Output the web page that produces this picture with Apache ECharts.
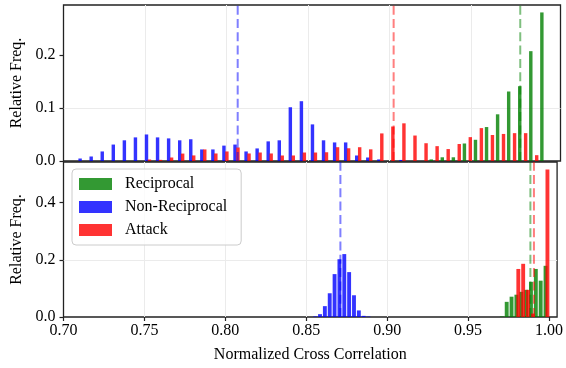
<!DOCTYPE html>
<html>
<head>
<meta charset="utf-8">
<script src="https://cdn.jsdelivr.net/npm/echarts@6/dist/echarts.min.js"></script>
<style>
  html, body { margin: 0; padding: 0; background: #fff; }
  #chart { width: 566px; height: 368px; }
</style>
</head>
<body>
<div id="chart"></div>
<script>
// ---- data ----
// top panel: one shared set of bins, three datasets side by side in each bin
const topBinStart = 0.7068;
const topBinWidth = 0.00679;
const topRecip = [
  0, 0, 0, 0, 0, 0, 0, 0, 0, 0, 0,
  0, 0, 0, 0, 0, 0, 0, 0, 0, 0, 0,
  0, 0, 0, 0, 0, 0, 0, 0, 0, 0,
  0.003, 0.007, 0.007, 0.033, 0.040, 0.064, 0.088, 0.131, 0.141, 0.207, 0.280
];
const topNonRecip = [
  0.0047, 0.0085, 0.018, 0.031, 0.039, 0.0445, 0.050, 0.0445, 0.0426, 0.039, 0.041,
  0.0218, 0.0218, 0.029, 0.031, 0.018, 0.0237, 0.037, 0.039, 0.1013, 0.1127, 0.069,
  0.039, 0.035, 0.035, 0.0104, 0.0066, 0.003, 0, 0.002, 0, 0,
  0, 0, 0, 0, 0, 0, 0, 0, 0, 0, 0
];
const topAttack = [
  0, 0, 0, 0, 0, 0, 0.0028, 0.0022, 0.0066, 0.014, 0.0105,
  0.0218, 0.0142, 0.018, 0.0255, 0.0142, 0.016, 0.0142, 0.0104, 0.0104, 0.016, 0.016,
  0.0165, 0.026, 0.024, 0.026, 0.022, 0.052, 0.065, 0.071, 0.048, 0.0335,
  0.028, 0.0225, 0.032, 0.045, 0.062, 0.049, 0.051, 0.0525, 0.0525, 0.011, 0
];
const topMeans = [0.9803, 0.8069, 0.9026]; // Reciprocal, Non-Reciprocal, Attack

// bottom panel: separate histograms, bin centres start + k * width
const botBinWidth = 0.003;
const botRecipStart = 0.97086;
const botRecip = [0.002, 0.053, 0.071, 0.078, 0.088, 0.095, 0.123, 0.168, 0.127, 0.179];
const botNonRecipStart = 0.8555;
const botNonRecip = [0.002, 0.010, 0.038, 0.083, 0.150, 0.202, 0.220, 0.157, 0.076, 0.023, 0.004, 0.0015];
const botAttackStart = 0.98104;
const botAttack = [0.168, 0.186, 0.095, 0.012, 0, 0, 0.516];
const botMeans = [0.9885, 0.8711, 0.9907];

const names = ['Reciprocal', 'Non-Reciprocal', 'Attack'];
const xTicks = [0.70, 0.75, 0.80, 0.85, 0.90, 0.95, 1.00];
const topYTicks = [0.0, 0.1, 0.2];
const botYTicks = [0.0, 0.2, 0.4];

const colors = ['rgba(0,128,0,0.8)', 'rgba(0,0,255,0.8)', 'rgba(255,0,0,0.8)'];
const meanColors = ['rgba(0,128,0,0.5)', 'rgba(0,0,255,0.5)', 'rgba(255,0,0,0.5)'];
const font = 'Liberation Serif';

// [left, right, height] for each bar
function topBars(values, idx) {
  const step = topBinWidth * 0.8 / 3;
  const w = topBinWidth * 0.31;
  return values.map(function (v, k) {
    const c = topBinStart + k * topBinWidth + topBinWidth * 0.1 + (idx + 0.5) * step;
    return [c - w / 2, c + w / 2, v];
  }).filter(function (d) { return d[2] > 0; });
}
function botBars(values, start) {
  return values.map(function (v, k) {
    const c = start + k * botBinWidth;
    return [c - botBinWidth * 0.4, c + botBinWidth * 0.4, v];
  }).filter(function (d) { return d[2] > 0; });
}

function renderBar(params, api) {
  const p0 = api.coord([api.value(0), api.value(2)]);
  const p1 = api.coord([api.value(1), 0]);
  return {
    type: 'rect',
    shape: { x: p0[0], y: p0[1], width: p1[0] - p0[0], height: p1[1] - p0[1] },
    style: { fill: api.visual('color') }
  };
}

// vertical dashed line over the whole panel at the mean
function renderMean(params, api) {
  const cs = params.coordSys;
  const x = api.coord([api.value(0), 0])[0];
  return {
    type: 'line',
    shape: { x1: x, y1: cs.y + cs.height, x2: x, y2: cs.y },
    style: { stroke: api.visual('color'), lineWidth: 2, lineDash: [9, 4.3] }
  };
}

function histSeries(name, i, gridIdx, data) {
  return {
    name: name,
    type: 'custom',
    xAxisIndex: gridIdx,
    yAxisIndex: gridIdx,
    renderItem: renderBar,
    encode: { x: [0, 1], y: 2 },
    itemStyle: { color: colors[i] },
    data: data,
    z: 2
  };
}
function meanSeries(name, i, gridIdx, mean) {
  return {
    name: name + ' mean',
    type: 'custom',
    xAxisIndex: gridIdx,
    yAxisIndex: gridIdx,
    renderItem: renderMean,
    encode: { x: 0, y: 1 },
    itemStyle: { color: meanColors[i] },
    data: [[mean, 0]],
    silent: true,
    z: 5
  };
}

const series = [];
series.push(histSeries(names[0], 0, 0, topBars(topRecip, 0)));
series.push(histSeries(names[1], 1, 0, topBars(topNonRecip, 1)));
series.push(histSeries(names[2], 2, 0, topBars(topAttack, 2)));
series.push(histSeries(names[0], 0, 1, botBars(botRecip, botRecipStart)));
series.push(histSeries(names[1], 1, 1, botBars(botNonRecip, botNonRecipStart)));
series.push(histSeries(names[2], 2, 1, botBars(botAttack, botAttackStart)));
for (let i = 0; i < 3; i++) {
  series.push(meanSeries(names[i], i, 0, topMeans[i]));
  series.push(meanSeries(names[i], i, 1, botMeans[i]));
}

const gridLine = { show: true, showMinLine: false, showMaxLine: false, lineStyle: { color: '#ebebeb', width: 1 } };
const labelStyle = { fontFamily: font, fontSize: 16, color: '#000' };

function xAxis(gridIdx, showLabels) {
  return {
    type: 'value',
    gridIndex: gridIdx,
    min: 0.7,
    max: 1.005,
    interval: 0.05,
    axisLine: { show: false },
    axisTick: { show: showLabels, inside: false, length: 4, customValues: xTicks,
      lineStyle: { color: '#222', width: 1.2 } },
    axisLabel: Object.assign({ show: showLabels, margin: 6, customValues: xTicks,
      formatter: function (v) { return v.toFixed(2); } }, labelStyle),
    splitLine: gridLine,
    name: showLabels ? 'Normalized Cross Correlation' : '',
    nameLocation: 'middle',
    nameGap: 30,
    nameTextStyle: labelStyle
  };
}
function yAxis(gridIdx, max, interval, ticks) {
  return {
    type: 'value',
    gridIndex: gridIdx,
    min: 0,
    max: max,
    interval: interval,
    axisLine: { show: false },
    axisTick: { show: true, inside: false, length: 4, customValues: ticks,
      lineStyle: { color: '#222', width: 1.2 } },
    axisLabel: Object.assign({ margin: 8, customValues: ticks,
      formatter: function (v) { return v.toFixed(1); } }, labelStyle),
    splitLine: gridLine,
    name: 'Relative Freq.',
    nameLocation: 'middle',
    nameRotate: 90,
    nameGap: 35,
    nameTextStyle: labelStyle
  };
}

const chart = echarts.init(document.getElementById('chart'), null, { renderer: 'canvas' });
chart.setOption({
  animation: false,
  backgroundColor: '#fff',
  grid: [
    { left: 63.5, right: 5.5, top: 5, height: 156, show: true, borderColor: '#222', borderWidth: 1.3, backgroundColor: 'transparent' },
    { left: 63.5, right: 5.5, top: 162, height: 155, show: true, borderColor: '#222', borderWidth: 1.3, backgroundColor: 'transparent' }
  ],
  xAxis: [xAxis(0, false), xAxis(1, true)],
  yAxis: [yAxis(0, 0.294, 0.1, topYTicks), yAxis(1, 0.542, 0.2, botYTicks)],
  legend: {
    orient: 'vertical',
    left: 72,
    top: 169,
    data: names,
    icon: 'rect',
    itemWidth: 33,
    itemHeight: 12,
    itemGap: 7,
    padding: [7, 14, 7, 7],
    backgroundColor: 'rgba(255,255,255,0.8)',
    borderColor: '#cccccc',
    borderWidth: 1,
    borderRadius: 4,
    textStyle: { fontFamily: font, fontSize: 16, color: '#000', lineHeight: 16, padding: [0, 0, 0, 8] }
  },
  series: series
});
</script>
</body>
</html>
